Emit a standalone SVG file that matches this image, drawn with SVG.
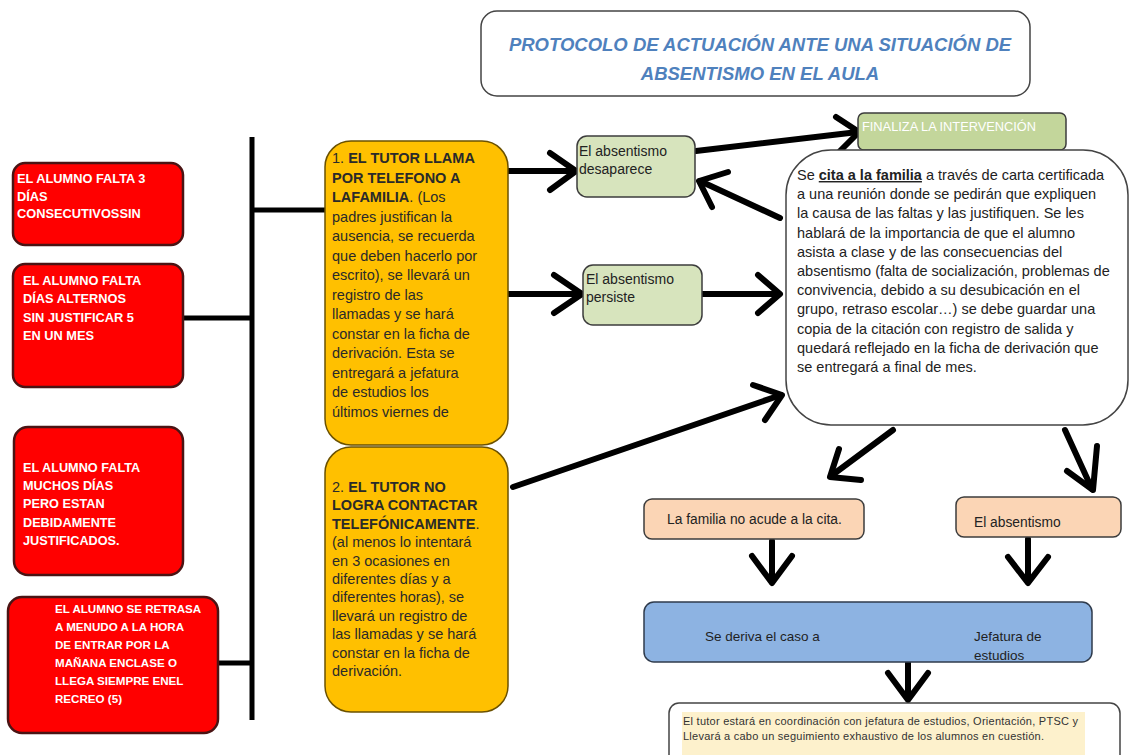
<svg xmlns="http://www.w3.org/2000/svg" width="1131" height="755" viewBox="0 0 1131 755">
<style>
text{font-family:"Liberation Sans",Arial,sans-serif;}
.red{fill:#ff0000;stroke:#4a1414;stroke-width:2.5;}
.rt{fill:#ffffff;font-weight:bold;}
.org{fill:#ffc000;stroke:#6b5100;stroke-width:1.5;}
.ot{fill:#2a2a2a;font-size:14.5px;}
.b{font-weight:bold;}
.grn{fill:#d7e4bd;stroke:#3c3c3c;stroke-width:1.5;}
.gt{fill:#222;font-size:14px;}
.pch{fill:#fbd5b5;stroke:#3c3c3c;stroke-width:1.5;}
.blu{fill:#8db3e2;stroke:#2f3b4c;stroke-width:1.5;}
.wb{fill:#ffffff;stroke:#444;stroke-width:1.5;}
.ln{stroke:#000;stroke-width:5;fill:none;}
.ar{stroke:#000;stroke-width:6;fill:none;stroke-linecap:round;stroke-linejoin:round;}
</style>

<g id="title">
<rect x="481" y="11" width="549" height="85" rx="16" class="wb"/>
<text x="760" y="51" text-anchor="middle" font-size="18.5" font-weight="bold" font-style="italic" fill="#4f81bd">PROTOCOLO DE ACTUACIÓN ANTE UNA SITUACIÓN DE</text>
<text x="760" y="80" text-anchor="middle" font-size="18.5" font-weight="bold" font-style="italic" fill="#4f81bd">ABSENTISMO EN EL AULA</text>
</g>

<g id="connectors">
<line x1="252" y1="137" x2="252" y2="720" class="ln"/>
<line x1="252" y1="210" x2="326" y2="210" class="ln"/>
<line x1="183" y1="318" x2="252" y2="318" class="ln"/>
<line x1="218" y1="663" x2="252" y2="663" class="ln"/>
<!-- orange1 -> green1 -->
<line x1="508" y1="171" x2="575" y2="171" class="ar"/>
<polyline points="550,153 576,171 550,190" class="ar"/>
<!-- orange1 -> green2 -->
<line x1="508" y1="294" x2="581" y2="294" class="ar"/>
<polyline points="554,275 582,294 554,313" class="ar"/>
<!-- green1 -> finaliza -->
<line x1="696" y1="151" x2="858" y2="132" class="ar"/>
<polyline points="836,117 859,132 840,151" class="ar"/>
<!-- big box -> green1 -->
<line x1="780" y1="218" x2="700" y2="181" class="ar"/>
<polyline points="728,172 699,181 712,207" class="ar"/>
<!-- green2 -> big box -->
<line x1="702" y1="294" x2="779" y2="294" class="ar"/>
<polyline points="758,275 780,294 758,313" class="ar"/>
<!-- orange2 -> big box -->
<line x1="513" y1="487" x2="781" y2="395" class="ar"/>
<polyline points="753,385 782,395 765,420" class="ar"/>
<!-- big box -> peach1 -->
<line x1="893" y1="430" x2="831" y2="476" class="ar"/>
<polyline points="839,449 830,477 861,480" class="ar"/>
<!-- big box -> peach2 -->
<line x1="1065" y1="430" x2="1092" y2="489" class="ar"/>
<polyline points="1097,446 1093,490 1067,471" class="ar"/>
<!-- peach1 -> blue -->
<line x1="772" y1="541" x2="772" y2="582" class="ar"/>
<polyline points="752,556 772,583 792,556" class="ar"/>
<!-- peach2 -> blue -->
<line x1="1028" y1="539" x2="1028" y2="582" class="ar"/>
<polyline points="1008,557 1028,583 1048,557" class="ar"/>
<!-- blue -> bottom -->
<line x1="908" y1="663" x2="908" y2="699" class="ar"/>
<polyline points="888,673 908,700 928,673" class="ar"/>
</g>

<g id="red1">
<rect x="13" y="163" width="170" height="82" rx="12" class="red"/>
<text class="rt" font-size="12.8"><tspan x="17" y="183">EL ALUMNO FALTA 3</tspan><tspan x="17" y="201">DÍAS</tspan><tspan x="17" y="218">CONSECUTIVOSSIN</tspan></text>
</g>
<g id="red2">
<rect x="13" y="264" width="170" height="123" rx="12" class="red"/>
<text class="rt" font-size="12.8"><tspan x="23" y="285">EL ALUMNO FALTA</tspan><tspan x="23" y="303">DÍAS ALTERNOS</tspan><tspan x="23" y="322">SIN JUSTIFICAR 5</tspan><tspan x="23" y="340">EN UN MES</tspan></text>
</g>
<g id="red3">
<rect x="14" y="427" width="169" height="148" rx="14" class="red"/>
<text class="rt" font-size="12.7"><tspan x="23" y="472">EL ALUMNO FALTA</tspan><tspan x="23" y="490">MUCHOS DÍAS</tspan><tspan x="23" y="508">PERO ESTAN</tspan><tspan x="23" y="527">DEBIDAMENTE</tspan><tspan x="23" y="545">JUSTIFICADOS.</tspan></text>
</g>
<g id="red4">
<rect x="8" y="597" width="210" height="136" rx="14" class="red"/>
<text class="rt" font-size="11.6"><tspan x="55" y="613">EL ALUMNO SE RETRASA</tspan><tspan x="55" y="631">A MENUDO A LA HORA</tspan><tspan x="55" y="649">DE ENTRAR POR LA</tspan><tspan x="55" y="667">MAÑANA ENCLASE O</tspan><tspan x="55" y="685">LLEGA SIEMPRE ENEL</tspan><tspan x="55" y="703">RECREO (5)</tspan></text>
</g>

<g id="orange1">
<rect x="325" y="141" width="183" height="304" rx="26" class="org"/>
<text class="ot">
<tspan x="332" y="163">1. <tspan class="b">EL TUTOR LLAMA</tspan></tspan>
<tspan x="332" y="182.5" class="b">POR TELEFONO A</tspan>
<tspan x="332" y="202"><tspan class="b">LAFAMILIA</tspan>. (Los</tspan>
<tspan x="332" y="221.5">padres justifican la</tspan>
<tspan x="332" y="241">ausencia, se recuerda</tspan>
<tspan x="332" y="260.5">que deben hacerlo por</tspan>
<tspan x="332" y="280">escrito), se llevará un</tspan>
<tspan x="332" y="299.5">registro de las</tspan>
<tspan x="332" y="319">llamadas y se hará</tspan>
<tspan x="332" y="338.5">constar en la ficha de</tspan>
<tspan x="332" y="358">derivación. Esta se</tspan>
<tspan x="332" y="377.5">entregará a jefatura</tspan>
<tspan x="332" y="397">de estudios los</tspan>
<tspan x="332" y="416.5">últimos viernes de</tspan>
</text>
</g>

<g id="orange2">
<rect x="325" y="447" width="183" height="265" rx="26" class="org"/>
<text class="ot">
<tspan x="332" y="492">2. <tspan class="b">EL TUTOR NO</tspan></tspan>
<tspan x="332" y="510.4" class="b">LOGRA CONTACTAR</tspan>
<tspan x="332" y="528.8"><tspan class="b">TELEFÓNICAMENTE</tspan>.</tspan>
<tspan x="332" y="547.2">(al menos lo intentará</tspan>
<tspan x="332" y="565.6">en 3 ocasiones en</tspan>
<tspan x="332" y="584">diferentes días y a</tspan>
<tspan x="332" y="602.4">diferentes horas), se</tspan>
<tspan x="332" y="620.8">llevará un registro de</tspan>
<tspan x="332" y="639.2">las llamadas y se hará</tspan>
<tspan x="332" y="657.6">constar en la ficha de</tspan>
<tspan x="332" y="676">derivación.</tspan>
</text>
</g>

<g id="green1">
<rect x="577" y="136" width="118" height="61" rx="10" class="grn"/>
<text class="gt"><tspan x="579" y="156">El absentismo</tspan><tspan x="579" y="174">desaparece</tspan></text>
</g>
<g id="green2">
<rect x="583" y="265" width="119" height="60" rx="10" class="grn"/>
<text class="gt"><tspan x="586" y="284">El absentismo</tspan><tspan x="586" y="302">persiste</tspan></text>
</g>

<g id="finaliza">
<rect x="858" y="113" width="208" height="37" rx="6" fill="#c3d69b" stroke="#3c3c3c" stroke-width="1.5"/>
<text x="862" y="131" font-size="12.8" fill="#ffffff">FINALIZA LA INTERVENCIÓN</text>
</g>

<g id="cita">
<rect x="786" y="150" width="342" height="275" rx="45" class="wb"/>
<text fill="#222" font-size="14.5">
<tspan x="797" y="180">Se <tspan class="b" text-decoration="underline">cita a la familia</tspan> a través de carta certificada</tspan>
<tspan x="797" y="199.2">a una reunión donde se pedirán que expliquen</tspan>
<tspan x="797" y="218.4">la causa de las faltas y las justifiquen. Se les</tspan>
<tspan x="797" y="237.6">hablará de la importancia de que el alumno</tspan>
<tspan x="797" y="256.8">asista a clase y de las consecuencias del</tspan>
<tspan x="797" y="276">absentismo (falta de socialización, problemas de</tspan>
<tspan x="797" y="295.2">convivencia, debido a su desubicación en el</tspan>
<tspan x="797" y="314.4">grupo, retraso escolar…) se debe guardar una</tspan>
<tspan x="797" y="333.6">copia de la citación con registro de salida y</tspan>
<tspan x="797" y="352.8">quedará reflejado en la ficha de derivación que</tspan>
<tspan x="797" y="372">se entregará a final de mes.</tspan>
</text>
</g>

<g id="peach1">
<rect x="644" y="499" width="220" height="40" rx="8" class="pch"/>
<text x="667" y="524" font-size="13.8" fill="#222">La familia no acude a la cita.</text>
</g>
<g id="peach2">
<rect x="956" y="497" width="165" height="40" rx="8" class="pch"/>
<text x="974" y="527" font-size="13.8" fill="#222">El absentismo</text>
</g>

<g id="blue">
<rect x="644" y="602" width="448" height="60" rx="10" class="blu"/>
<text font-size="13.5" fill="#1f1f1f"><tspan x="705" y="641">Se deriva el caso a</tspan><tspan x="974" y="641">Jefatura de</tspan><tspan x="974" y="660">estudios</tspan></text>
</g>

<g id="final">
<rect x="669" y="703" width="451" height="70" rx="10" class="wb"/>
<rect x="682" y="712" width="403" height="43" fill="#fdf1cc"/>
<text font-size="11" fill="#333"><tspan x="683" y="725" textLength="395">El tutor estará en coordinación con jefatura de estudios, Orientación, PTSC y</tspan><tspan x="683" y="740" textLength="361">Llevará a cabo un seguimiento exhaustivo de los alumnos en cuestión.</tspan></text>
</g>
</svg>
